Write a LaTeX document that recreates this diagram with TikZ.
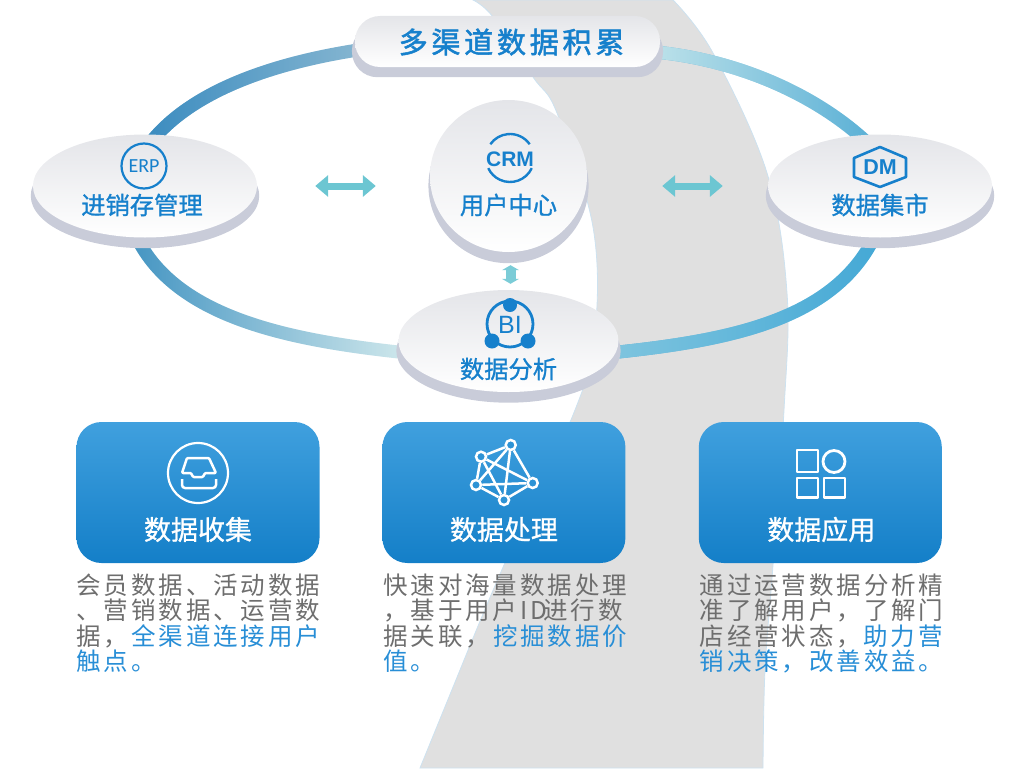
\documentclass[tikz,border=0pt]{standalone}
\usepackage{fontspec}
\usetikzlibrary{arrows.meta,positioning,shapes.geometric,shadows,fadings,backgrounds,calc}
\newfontfamily\cjkhead[FakeBold=1.0]{Noto Sans CJK SC}
\newfontfamily\cjkbody[LetterSpace=11.8]{Noto Sans CJK SC}
\newfontfamily\cjktitle[LetterSpace=13,FakeBold=1.8]{Noto Sans CJK SC}
\newfontfamily\iconfont{Liberation Sans}
\newfontfamily\narrowfont{Carlito}
\definecolor{flowblue}{RGB}{22,128,204}
\definecolor{flowlink}{RGB}{40,142,214}
\definecolor{flowgrey}{RGB}{110,110,110}
\definecolor{ribbongrey}{RGB}{224,224,224}
\definecolor{ribbonedge}{RGB}{205,226,240}
\definecolor{discgrey}{RGB}{228,229,233}
\definecolor{discshade}{RGB}{201,204,217}
\definecolor{arrowteal}{RGB}{108,198,210}
\definecolor{cardtop}{RGB}{64,160,222}
\definecolor{cardbottom}{RGB}{20,127,200}
\begin{document}
\begin{tikzpicture}[x=1pt,y=-1pt,
  disc/.style={ellipse,inner sep=0pt,top color=discgrey,bottom color=white,general shadow={shadow yshift=-9.5pt,shadow scale=1.02,fill=discshade}},
  wheel/.style={disc,minimum width=224pt,minimum height=103pt},
  pill/.style={rectangle,rounded corners=25pt,inner sep=0pt,minimum width=305pt,minimum height=51pt,top color=discgrey,bottom color=white,general shadow={shadow yshift=-9.5pt,shadow scale=1.02,fill=discshade}},
  disctext/.style={inner sep=0pt,text=flowblue,font=\cjkhead\fontsize{24.3}{24}\selectfont},
  card/.style={rectangle,rounded corners=25pt,inner sep=0pt,minimum width=243pt,minimum height=141pt,top color=cardtop,bottom color=cardbottom},
  cardtext/.style={inner sep=0pt,text=white,font=\cjkhead\fontsize{27}{27}\selectfont},
  bodytext/.style={inner sep=0pt,align=left,anchor=north west,text=flowgrey,font=\cjkbody\fontsize{24.5}{25.3}\selectfont},
  ringpart/.style={line width=13pt},
  twoway/.style={draw=arrowteal,line width=7pt,{Triangle[length=13pt,width=21pt]}-{Triangle[length=13pt,width=21pt]}},
  shortway/.style={draw=arrowteal!90!white,line width=10pt,{Triangle[length=5pt,width=17pt]}-{Triangle[length=5pt,width=17pt]}},
  iconblue/.style={draw=flowblue,line width=2.2pt},
  iconwhite/.style={draw=white,line width=2.5pt,line join=round},
  netdot/.style={circle,draw=white,line width=2.5pt,fill=cardtop!60!cardbottom,minimum size=10pt,inner sep=0pt}]
  \useasboundingbox (0,0) rectangle (1024,768);
  \node[pill] (collect) at (507.5,41.5) {};
  \node[inner sep=0pt,text=flowblue,font=\cjktitle\fontsize{29}{29}\selectfont] (collecttext) at (511.5,42) {多渠道数据积累};
  \node[wheel] (erp) at (145,186) {};
  \node[disc,minimum width=157pt,minimum height=152pt] (crm) at (508.5,176) {};
  \node[wheel] (dm) at (880,186) {};
  \node[disc,minimum width=220pt,minimum height=102pt] (bi) at (508.5,341) {};
  \node[disctext] (erptext) at ([xshift=-3pt,yshift=-19pt]erp.center) {进销存管理};
  \node[disctext] (crmtext) at ([yshift=-29pt]crm.center) {用户中心};
  \node[disctext] (dmtext) at ([yshift=-19pt]dm.center) {数据集市};
  \node[disctext] (bitext) at ([yshift=-28pt]bi.center) {数据分析};
  \begin{scope}[on background layer]
    \fill[ribbongrey,draw=ribbonedge,line width=0.8pt] plot[smooth,tension=0.6] coordinates {(673,0) (713,53) (767,173) (787,293) (784,410) (773,565) (765,670) (763,768)} -- (420,768) -- plot[smooth,tension=0.6] coordinates {(460,670) (504,565) (575,410) (595,333) (593,227) (557,113) (533,77) (493,17) (473,0)} -- cycle;
    \draw[ringpart,draw={rgb,255:red,134;green,182;blue,209}] ([xshift=5pt,yshift=-9pt]erp.north) .. controls (190,92) and (270,64) .. ([yshift=-9pt]collect.west);
    \draw[ringpart,draw={rgb,255:red,59;green,140;blue,192},path fading=east] ([xshift=5pt,yshift=-9pt]erp.north) .. controls (190,92) and (270,64) .. ([yshift=-9pt]collect.west);
    \draw[ringpart,draw={rgb,255:red,207;green,232;blue,236}] ([xshift=-6pt,yshift=-4pt]erp.south) .. controls (180,318) and (290,340) .. ([yshift=-11pt]bi.west);
    \draw[ringpart,draw={rgb,255:red,70;green,150;blue,195},path fading=east] ([xshift=-6pt,yshift=-4pt]erp.south) .. controls (180,318) and (290,340) .. ([yshift=-11pt]bi.west);
    \draw[ringpart,draw={rgb,255:red,90;green,176;blue,214}] ([yshift=-11pt]collect.east) .. controls (745,62) and (820,98) .. ([xshift=-12pt,yshift=-9pt]dm.north);
    \draw[ringpart,draw={rgb,255:red,189;green,226;blue,234},path fading=east] ([yshift=-11pt]collect.east) .. controls (745,62) and (820,98) .. ([xshift=-12pt,yshift=-9pt]dm.north);
    \draw[ringpart,draw={rgb,255:red,69;green,169;blue,214}] ([yshift=-11pt]bi.east) .. controls (730,340) and (830,320) .. ([xshift=-8pt,yshift=-4pt]dm.south);
    \draw[ringpart,draw={rgb,255:red,127;green,197;blue,223},path fading=east] ([yshift=-11pt]bi.east) .. controls (730,340) and (830,320) .. ([xshift=-8pt,yshift=-4pt]dm.south);
  \end{scope}
  \draw[twoway,shorten <=58pt,shorten >=54pt] (erp.east) -- (erp.east -| crm.west);
  \draw[twoway,shorten <=75pt,shorten >=45pt] (dm.west -| crm.east) -- (dm.west);
  \draw[shortway,shorten <=13pt,shorten >=6pt] ([xshift=2pt]crm.south) -- ([xshift=2pt]bi.north);
  \draw[iconblue] (144,166) circle[radius=22.5];
  \node[inner sep=0pt,text=flowblue,font=\narrowfont\fontsize{20}{20}\selectfont] (erpmark) at (144,166.5) {ERP};
  \draw[iconblue,line width=2.4pt] (510,158) ++(25:24) arc[start angle=25,end angle=155,radius=24];
  \draw[iconblue,line width=2.4pt] (510,158) ++(-35:24) arc[start angle=-35,end angle=-145,radius=24];
  \node[inner sep=0pt,text=flowblue,font=\iconfont\bfseries\fontsize{21}{21}\selectfont] (crmmark) at (510,159.5) {CRM};
  \draw[iconblue,line width=2.6pt,line join=round] (880,147) -- (906,158) -- (906,177) -- (880,187) -- (854,177) -- (854,158) -- cycle;
  \node[inner sep=0pt,text=flowblue,font=\iconfont\bfseries\fontsize{21.5}{21}\selectfont] (dmmark) at (880,167) {DM};
  \draw[iconblue,line width=2.8pt] (510,324) circle[radius=23];
  \fill[flowblue] (510,305) circle[radius=7] (492,341) circle[radius=7.5] (528,341) circle[radius=7.5];
  \node[inner sep=0pt,text=flowblue,font=\iconfont\fontsize{25}{25}\selectfont] (bimark) at (510,324.5) {BI};
  \node[card] (gather) at (198,492.5) {};
  \node[card,right=62.5pt of gather] (process) {};
  \node[card,right=73pt of process] (apply) {};
  \node[cardtext] (gathertext) at ([yshift=-37pt]gather.center) {数据收集};
  \node[cardtext] (processtext) at ([yshift=-37pt]process.center) {数据处理};
  \node[cardtext] (applytext) at ([xshift=1pt,yshift=-37pt]apply.center) {数据应用};
  \node[bodytext,below=10.5pt of gather.south west,anchor=north west] (gatherbody) {会员数据、活动数据\\、营销数据、运营数\\据，\hspace{3pt}\textcolor{flowlink}{全渠道连接用户}\\\textcolor{flowlink}{触点。}};
  \node[bodytext,below=10.5pt of process.south west,anchor=north west,xshift=1pt] (processbody) {快速对海量数据处理\\，基于用户ID\hspace{-4pt}进行数\\据关联，\hspace{3pt}\textcolor{flowlink}{挖掘数据价}\\\textcolor{flowlink}{值。}};
  \node[bodytext,below=10.5pt of apply.south west,anchor=north west,xshift=1pt] (applybody) {通过运营数据分析精\\准了解用户，了解门\\店经营状态，\hspace{2pt}\textcolor{flowlink}{助力营}\\\textcolor{flowlink}{销决策，改善效益。}};
  \draw[iconwhite,line width=2.2pt] (198,473) circle[radius=30];
  \draw[iconwhite,rounded corners=1pt] (182,473) -- (187,458) -- (209,458) -- (216,473) -- (205,473) -- (203,477) -- (193,477) -- (191,473) -- cycle;
  \draw[iconwhite,rounded corners=3pt] (182,479) -- (182,488) -- (216,488) -- (216,479);
  \node[netdot] (neta) at (510.7,445) {};
  \node[netdot] (netb) at (481,456.7) {};
  \node[netdot] (netc) at (476,485) {};
  \node[netdot] (netd) at (504,500) {};
  \node[netdot] (nete) at (532.7,483) {};
  \foreach \from/\to in {neta/netb,neta/netc,neta/netd,neta/nete,netb/netc,netb/netd,netb/nete,netc/netd,netc/nete,netd/nete}
    \draw[iconwhite] (\from) -- (\to);
  \draw[iconwhite,line width=2.8pt] (797,450) rectangle (818,472);
  \draw[iconwhite,line width=2.8pt] (834,461.5) circle[radius=11];
  \draw[iconwhite,line width=2.8pt] (797,478) rectangle (818,497.5);
  \draw[iconwhite,line width=2.8pt] (824,478) rectangle (845,497.5);
\end{tikzpicture}
\end{document}
